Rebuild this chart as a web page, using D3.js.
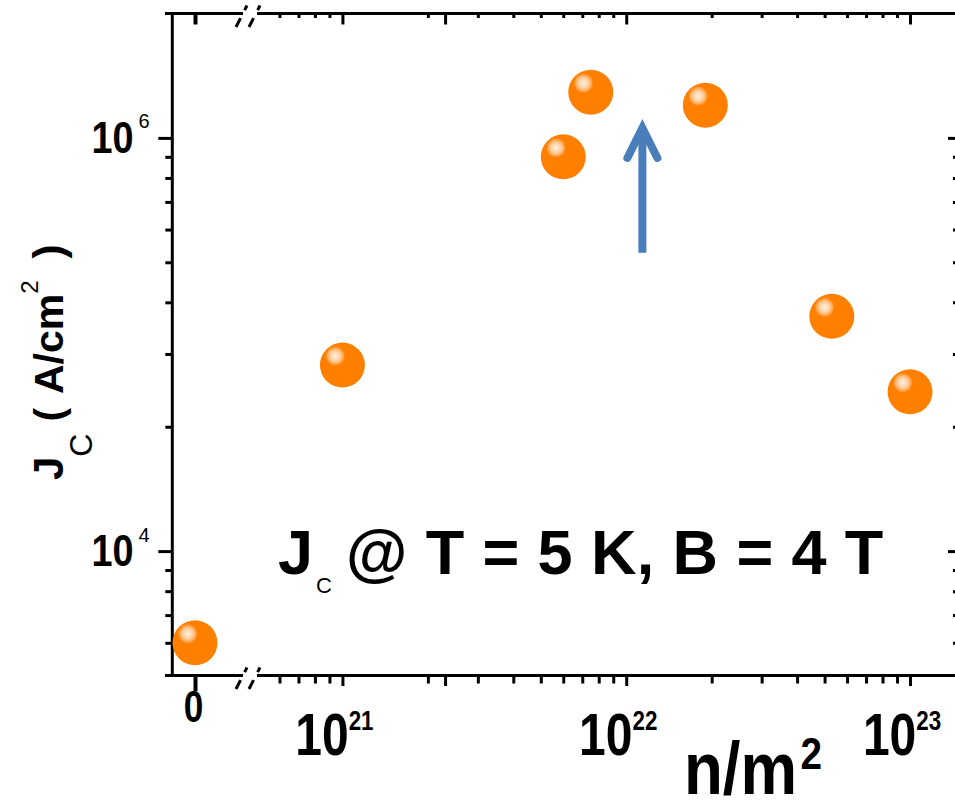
<!DOCTYPE html>
<html><head><meta charset="utf-8">
<script src="https://cdn.jsdelivr.net/npm/d3@7"></script>
<style>
html,body{margin:0;padding:0;background:#fff;}
svg{display:block;}
text{font-family:"Liberation Sans",Arial,Helvetica,sans-serif;fill:#000;}
</style>
</head><body>
<svg id="c" width="955" height="802"></svg>
<script>
// ---- data ----
const fluence = [0, 1.0e21, 6.0e21, 7.5e21, 1.9e22, 5.3e22, 1.0e23];   // n/m^2
const jc      = [6.0e3, 2.82e4, 9.0e4, 1.29e5, 1.2e5, 3.7e4, 2.43e4];   // A/cm^2
const xMajorTicks = [1e21, 1e22, 1e23];
const xTickExp = ["21", "22", "23"];
const xMinorTicks = [6e20, 7e20, 8e20, 9e20,
  2e21, 3e21, 4e21, 5e21, 6e21, 7e21, 8e21, 9e21,
  2e22, 3e22, 4e22, 5e22, 6e22, 7e22, 8e22, 9e22];
const xMidTicks = [2.3e21];
const xZeroTick = [0];
const xZeroLabel = ["0"];
const yMajorTicks = [1e4, 1e5];
const yTickExp = ["4", "6"];
const yMinorTicks = [6e3, 7e3, 8e3, 9e3, 2e4, 3e4, 4e4, 5e4, 6e4, 7e4, 8e4, 9e4];
const arrowFluence = [1.14e22];
const arrowJc = [5.27e4, 1.057e5];   // tail, tip
const annotation = ["J", "C", "@ T = 5 K, B = 4 T"];
const yTitle = ["J", "C", "( A/cm", "2", ")"];
const xTitle = ["n/m", "2"];

// ---- layout ----
const L = 172.3, T = 13.5, B = 675.5, R = 960;
const breakL = 243, breakR = 257;
const svg = d3.select("#c");
svg.append("rect").attr("width", 955).attr("height", 802).attr("fill", "#fff");

const xR = d3.scaleLog().domain([5e20, 1.5e23]).range([breakR, R]);
const xL = d3.scaleLinear().domain([0, 1]).range([195, 240]);
const y = d3.scaleLog().domain([5e3, 2e5]).range([B, T]);

const defs = svg.append("defs");
const grad = defs.append("radialGradient").attr("id", "ball")
  .attr("cx", 0.34).attr("cy", 0.30).attr("r", 0.5).attr("fx", 0.34).attr("fy", 0.30);
[[0, "#fff6ec"], [0.1, "#ffe2c4"], [0.24, "#ffcc99"], [0.34, "#ffac5a"], [0.44, "#ff8000"], [1, "#ff8000"]]
  .forEach(s => grad.append("stop").attr("offset", s[0]).attr("stop-color", s[1]));

function tickSet(axisFn, scale, vals, size, transform) {
  const a = axisFn(scale).tickValues(vals).tickSize(size).tickFormat("");
  const gg = svg.append("g").attr("transform", transform).call(a);
  gg.select(".domain").remove();
  gg.selectAll("text").remove();
  gg.selectAll("line").attr("stroke", "#000").attr("stroke-width", 3);
  return gg;
}
// bottom (outward)
tickSet(d3.axisBottom, xR, xMinorTicks, 8, `translate(0,${B})`);
tickSet(d3.axisBottom, xR, xMajorTicks.concat(xMidTicks), 10.5, `translate(0,${B})`);
tickSet(d3.axisBottom, xL, xZeroTick, 16, `translate(0,${B})`).selectAll("line").attr("stroke-width", 4);
// top (inward)
tickSet(d3.axisBottom, xR, xMinorTicks, 4.5, `translate(0,${T})`);
tickSet(d3.axisBottom, xR, xMajorTicks.concat(xMidTicks), 11, `translate(0,${T})`);
tickSet(d3.axisBottom, xL, xZeroTick, 11, `translate(0,${T})`).selectAll("line").attr("stroke-width", 4);
// left (outward)
tickSet(d3.axisLeft, y, yMinorTicks, 7, `translate(${L},0)`);
tickSet(d3.axisLeft, y, yMajorTicks, 14, `translate(${L},0)`);
// right (inward)
tickSet(d3.axisLeft, y, yMinorTicks, 7, `translate(${R},0)`);
tickSet(d3.axisLeft, y, yMajorTicks, 12, `translate(${R},0)`);

// axis lines with break
const ax = svg.append("g").attr("stroke", "#000").attr("stroke-width", 3).attr("fill", "none");
[T, B].forEach(yy => {
  ax.append("line").attr("x1", 165).attr("x2", breakL).attr("y1", yy).attr("y2", yy);
  ax.append("line").attr("x1", breakR).attr("x2", R).attr("y1", yy).attr("y2", yy);
  [236, 249].forEach(x0 => {
    ax.append("line").attr("x1", x0).attr("y1", yy + 13.5).attr("x2", x0 + 11).attr("y2", yy - 8)
      .attr("stroke-dasharray", "10,9,6");
  });
});
ax.append("line").attr("x1", L).attr("x2", L).attr("y1", T - 1.5).attr("y2", B + 1.5);
ax.append("line").attr("x1", R).attr("x2", R).attr("y1", T).attr("y2", B);

// y tick labels
yMajorTicks.forEach((v, i) => {
  svg.append("text").attr("transform", `translate(133.5,${y(v) + 15}) scale(0.86,1)`).attr("text-anchor", "end")
    .attr("font-size", 44).attr("font-weight", "bold").text("10");
  svg.append("text").attr("x", 138.5).attr("y", y(v) - 9.5).attr("text-anchor", "start")
    .attr("font-size", 20).text(yTickExp[i]);
});
// x tick labels
xMajorTicks.forEach((v, i) => {
  const t = svg.append("text").attr("transform", `translate(${xR(v) - 8},755) scale(0.8,1)`)
    .attr("text-anchor", "middle").attr("font-weight", "bold");
  t.append("tspan").attr("font-size", 60).text("10");
  t.append("tspan").attr("font-size", 28).attr("dy", -25).text(xTickExp[i]);
});
xZeroTick.forEach((v, i) => {
  svg.append("text").attr("transform", `translate(${xL(v) - 1.5},722) scale(0.8,1)`)
    .attr("text-anchor", "middle").attr("font-size", 44).attr("font-weight", "bold").text(xZeroLabel[i]);
});

// x title
const xt = svg.append("text").attr("transform", "translate(684,794) scale(0.86,1)").attr("font-weight", "bold");
xt.append("tspan").attr("font-size", 74).text(xTitle[0]);
xt.append("tspan").attr("font-size", 45).attr("dx", 4).attr("dy", -25).text(xTitle[1]);

// y title
const yt = svg.append("text").attr("transform", "translate(63,480) rotate(-90)").attr("font-weight", "bold");
yt.append("tspan").attr("font-size", 42).text(yTitle[0]);
yt.append("tspan").attr("font-size", 32).attr("font-weight", "normal").attr("dy", 29).text(yTitle[1]);
yt.append("tspan").attr("font-size", 41).attr("dx", 12).attr("dy", -29).attr("word-spacing", 4).text(yTitle[2]);
yt.append("tspan").attr("font-size", 24).attr("font-weight", "normal").attr("dy", -25).text(yTitle[3]);
yt.append("tspan").attr("font-size", 42).attr("dx", 22).attr("dy", 25).text(yTitle[4]);

// annotation
const an = svg.append("text").attr("x", 278).attr("y", 574).attr("font-weight", "bold");
an.append("tspan").attr("font-size", 63).text(annotation[0]);
an.append("tspan").attr("font-size", 22).attr("font-weight", "normal").attr("dx", 3).attr("dy", 19).text(annotation[1]);
an.append("tspan").attr("font-size", 63).attr("dx", 14).attr("dy", -19).attr("letter-spacing", 0.4).text(annotation[2]);

// arrow
const axp = xR(arrowFluence[0]), tailY = y(arrowJc[0]), tipY = y(arrowJc[1]);
const arr = svg.append("g").attr("stroke", "#4a7ebb").attr("stroke-width", 8).attr("fill", "none");
arr.append("line").attr("x1", axp).attr("x2", axp).attr("y1", tailY).attr("y2", tipY);
arr.append("path").attr("d", `M${axp - 15},${tipY + 30}L${axp},${tipY}L${axp + 15},${tipY + 30}`)
  .attr("stroke-linecap", "round").attr("stroke-linejoin", "miter");

// markers
svg.append("g").selectAll("circle").data(fluence).join("circle")
  .attr("cx", (d) => d === 0 ? xL(d) : xR(d))
  .attr("cy", (d, i) => y(jc[i]))
  .attr("r", 22.5)
  .attr("fill", "url(#ball)");
</script>
</body></html>
